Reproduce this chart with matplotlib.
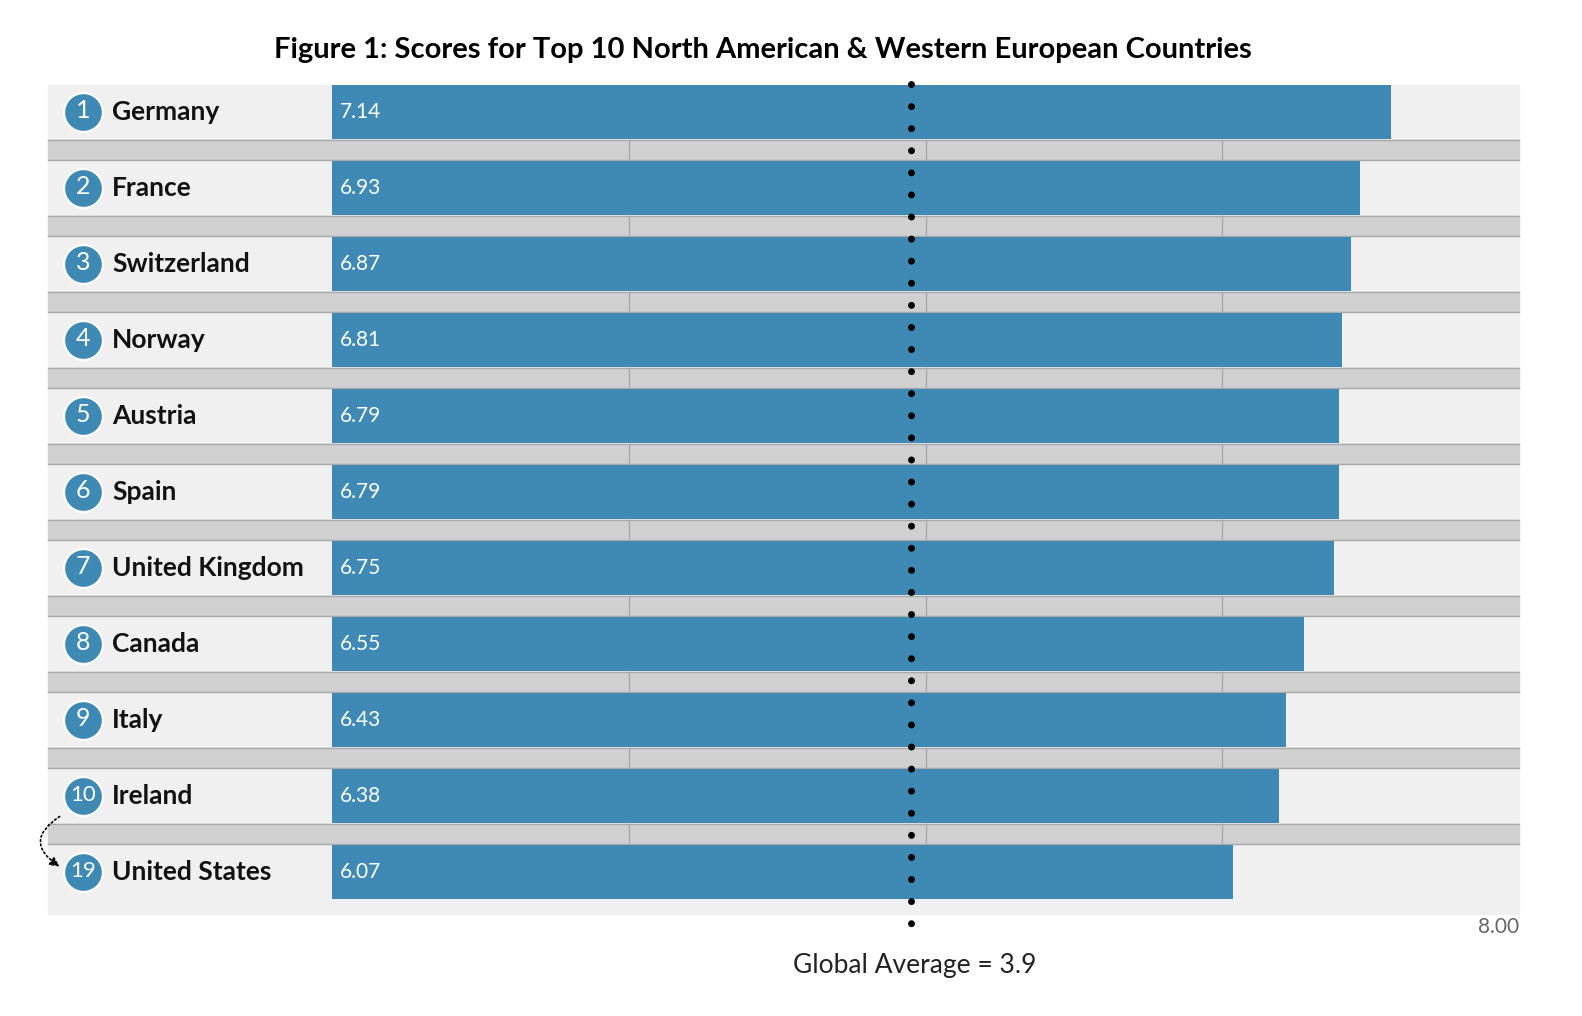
import matplotlib.pyplot as plt

countries = ["Germany", "France", "Switzerland", "Norway", "Austria", "Spain",
             "United Kingdom", "Canada", "Italy", "Ireland", "United States"]
ranks = ["1", "2", "3", "4", "5", "6", "7", "8", "9", "10", "19"]
scores = [7.14, 6.93, 6.87, 6.81, 6.79, 6.79, 6.75, 6.55, 6.43, 6.38, 6.07]
global_avg = 3.9
grid_vals = [2, 4, 6]
x_max = 8.0

plt.rcParams['font.family'] = ['Lato', 'DejaVu Sans']
W, H = 1582, 1016
fig = plt.figure(figsize=(W / 100, H / 100), dpi=100)
ax = fig.add_axes([0, 0, 1, 1])
ppu = (1519 - 332) / x_max          # pixels per score unit
px = lambda p: (p - 332) / ppu      # pixel x -> data x
ax.set_xlim(px(0), px(W))
ax.set_ylim(H, 0)
ax.axis('off')

blue = '#3f8ab5'
left = px(48)
for i, (c, r, s) in enumerate(zip(countries, ranks, scores)):
    yc = 112 + 76 * i
    ax.fill_between([left, x_max], yc - 27, yc + 27, color='#f0f0f0', zorder=1)
    if i < len(countries) - 1:
        ax.fill_between([left, x_max], yc + 28, yc + 48, color='#d0d0d0', zorder=1)
        ax.plot([left, x_max], [yc + 28, yc + 28], color='#a8a8a8', lw=1, zorder=2)
        ax.plot([left, x_max], [yc + 48, yc + 48], color='#a8a8a8', lw=1, zorder=2)
        for g in grid_vals:
            ax.plot([g, g], [yc + 28, yc + 48], color='#a8a8a8', lw=1, zorder=2)
    else:
        ax.fill_between([left, x_max], yc + 28, yc + 42, color='#f0f0f0', zorder=1)
    ax.barh(yc, s, height=54, left=0, color=blue, zorder=3)
    ax.text(px(340), yc, f"{s:.2f}", color='white', fontsize=15, va='center', ha='left', zorder=4)
    ax.scatter(px(83), yc, s=780, color=blue, edgecolor='white', linewidth=1.5, zorder=4)
    ax.text(px(83), yc - 1, r, color='white', fontsize=18 if len(r) == 1 else 16,
            ha='center', va='center', zorder=5)
    ax.text(px(112), yc, c, color='#111111', fontsize=19, fontweight='bold',
            ha='left', va='center', zorder=4)

ax.plot([global_avg, global_avg], [84, 940], color='black', lw=5,
        ls=(0, (0.01, 3.17)), dash_capstyle='round', zorder=6)

ax.text(px(763), 50, "Figure 1: Scores for Top 10 North American & Western European Countries",
        fontsize=21, fontweight='bold', ha='center', va='center')
ax.text(x_max, 927, f"{x_max:.2f}", fontsize=15, color='#666666', ha='right', va='center')
ax.text(px(915), 965, f"Global Average = {global_avg}", fontsize=19, color='#222222',
        ha='center', va='center')

ax.annotate("", xy=(px(62), 868), xytext=(px(62), 815),
            arrowprops=dict(arrowstyle='-|>', color='black', lw=1.2, ls=':',
                            connectionstyle='arc3,rad=0.8', mutation_scale=14))

fig.savefig('out.png', dpi=100)
